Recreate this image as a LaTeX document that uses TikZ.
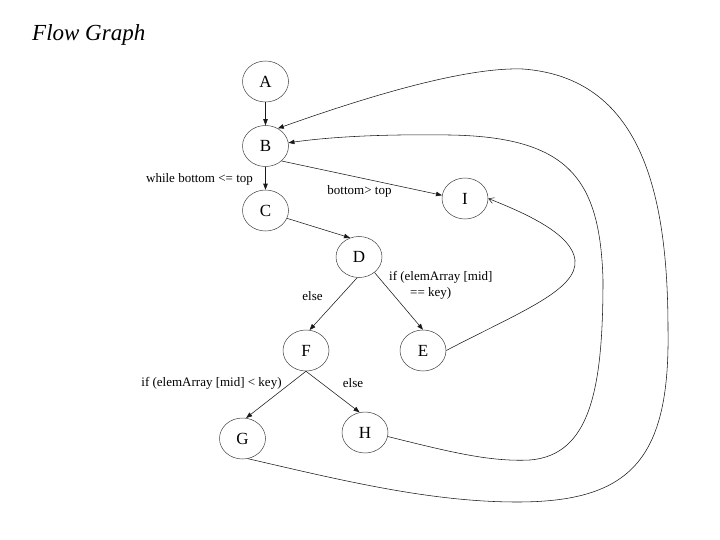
\documentclass[tikz,border=0pt]{standalone}
\usepackage{fontspec}
\setmainfont{Liberation Serif}
\usetikzlibrary{shapes.geometric,arrows.meta}
\begin{document}
\begin{tikzpicture}[x=1pt,y=-1pt,
  state/.style={ellipse,draw=black!75,line width=0.5pt,minimum width=46pt,minimum height=41pt,inner sep=0pt,font=\fontsize{17}{19}\selectfont},
  edge/.style={draw=black!90,line width=0.55pt,-{Triangle[length=6pt,width=4.5pt]}},
  loop/.style={draw=black!90,line width=0.55pt,-{Straight Barb[length=5pt,width=6pt]}},
  lbl/.style={font=\fontsize{13}{15}\selectfont,inner sep=0pt}]
\useasboundingbox (0,0) rectangle (720,540);
\node[font=\fontsize{23}{26}\selectfont\itshape,anchor=base west,inner sep=0pt] (title) at (32,41) {Flow Graph};
\node[state] (A) at (265.5,81.5) {A};
\node[state] (B) at (265.5,146) {B};
\node[state] (C) at (265.5,210.5) {C};
\node[state] (D) at (359,257) {D};
\node[state] (I) at (465,198.5) {I};
\node[state] (F) at (306,350.5) {F};
\node[state] (E) at (423,350.5) {E};
\node[state] (G) at (242.5,438.5) {G};
\node[state] (H) at (365,432.5) {H};
\draw[edge] (A) -- (B);
\draw[edge] (B) -- (C);
\draw[edge] (B.-43) -- (I.172);
\draw[edge] (C.-20) -- (D.115);
\draw[edge] (D.-95) -- (F.80);
\draw[edge] (D.-45) -- (E.north);
\draw[edge] (F.south) -- (G.80);
\draw[edge] (F.south) -- (H.105);
\draw[loop] (E.east) .. controls (520,312) and (578,290) .. (575,260)
  .. controls (572,235) and (530,215) .. (I.east);
\draw[edge] (H.-10) .. controls (450,452) and (490,462) .. (530,460)
  .. controls (590,455) and (603,390) .. (603,280)
  .. controls (600,180) and (570,137) .. (450,135)
  .. controls (380,134) and (330,137) .. (B.8);
\draw[edge] (G.-75) .. controls (340,480) and (430,502) .. (517,502)
  .. controls (630,502) and (670,460) .. (668,330)
  .. controls (668,190) and (640,78) .. (523,69)
  .. controls (470,67) and (380,92) .. (B.55);
\node[lbl] (l1) at (199.5,179) {while bottom <= top};
\node[lbl] (l2) at (359.5,191) {bottom> top};
\node[lbl] (l3) at (312.5,296) {else};
\node[lbl,align=left,anchor=north west,font=\fontsize{13}{16.5}\selectfont] (l4) at (389,271) {if (elemArray [mid]\\\hspace*{21pt}== key)};
\node[lbl] (l5) at (211.5,383) {if (elemArray [mid] < key)};
\node[lbl] (l6) at (353,383) {else};
\end{tikzpicture}
\end{document}
